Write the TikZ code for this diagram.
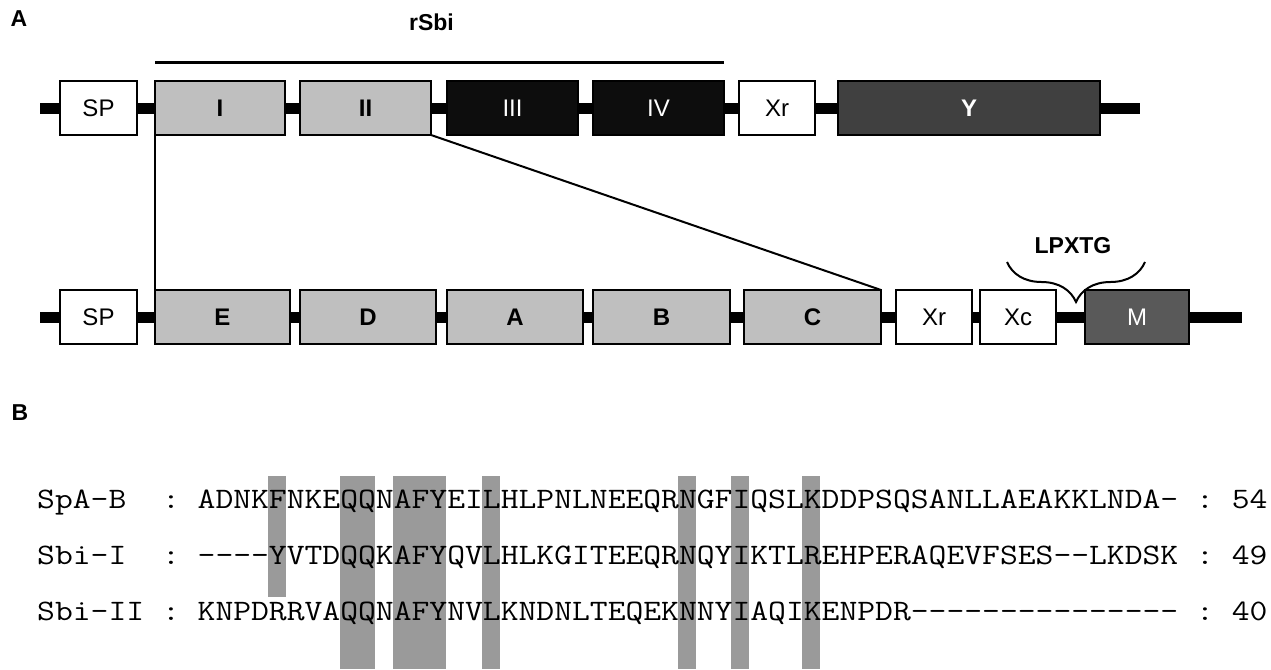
\documentclass[tikz,border=0pt]{standalone}
\usepackage{fontspec}
\setsansfont{Liberation Sans}
\usepackage{graphicx}
\usetikzlibrary{positioning,decorations.pathreplacing}

\definecolor{domgrey}{HTML}{BFBFBF}
\definecolor{domblack}{HTML}{0D0D0D}
\definecolor{ydark}{HTML}{404040}
\definecolor{mdark}{HTML}{595959}
\definecolor{hlgrey}{HTML}{9A9A9A}
\newcommand{\seqrow}[1]{\scalebox{1.1657}[1]{\fontsize{29.7}{30}\selectfont\ttfamily #1}}
\newcommand{\cw}{17.8}

\begin{document}
\begin{tikzpicture}[x=1pt,y=-1pt,
    box/.style={draw,line width=1.5pt,minimum height=54pt,inner sep=0pt,outer sep=0pt,
                font=\sffamily\fontsize{24}{24}\selectfont},
    white box/.style={box,fill=white},
    grey box/.style={box,fill=domgrey,font=\sffamily\bfseries\fontsize{24}{24}\selectfont},
    black box/.style={box,fill=domblack,text=white},
    dark box/.style={box,fill=#1,text=white},
    spine/.style={line width=11pt},
    panel/.style={font=\sffamily\bfseries\fontsize{23}{23}\selectfont},
    seq/.style={anchor=base west,inner sep=0pt}]

    \useasboundingbox (0,0) rectangle (1271,669);

    % panel A
    \node[panel] (pA) at (19,19) {A};

    \coordinate (topL) at (40,108);
    \coordinate (topR) at (1140,108);
    \draw[spine] (topL) -- (topR);

    \node[white box, minimum width=77pt] (SP1) at (98.5,108) {SP};
    \node[grey box, minimum width=130pt, right=18pt of SP1] (I) {I};
    \node[grey box, minimum width=131pt, right=15pt of I] (II) {II};
    \node[black box, minimum width=131pt, right=16pt of II] (III) {III};
    \node[black box, minimum width=131pt, right=15pt of III] (IV) {IV};
    \node[white box, minimum width=76pt, right=15pt of IV] (Xr1) {Xr};
    \node[dark box=ydark, minimum width=262pt, right=23pt of Xr1,
          font=\sffamily\bfseries\fontsize{24}{24}\selectfont] (Y) {Y};

    \draw[line width=3pt] ([yshift=18pt]I.north west) -- ([yshift=18pt]IV.north east)
        node[midway, yshift=41pt, xshift=-8pt, panel] (rsbi) {rSbi};

    \coordinate (botL) at (40,317);
    \coordinate (botR) at (1242,317);
    \draw[spine] (botL) -- (botR);

    \node[white box, minimum width=77pt] (SP2) at (98.5,317) {SP};
    \node[grey box, minimum width=135pt, right=18pt of SP2] (E) {E};
    \node[grey box, minimum width=136pt, right=10pt of E] (D) {D};
    \node[grey box, minimum width=136pt, right=11pt of D] (A) {A};
    \node[grey box, minimum width=137pt, right=10pt of A] (B) {B};
    \node[grey box, minimum width=137pt, right=14pt of B] (C) {C};
    \node[white box, minimum width=76pt, right=15pt of C] (Xr2) {Xr};
    \node[white box, minimum width=76pt, right=8pt of Xr2] (Xc) {Xc};
    \node[dark box=mdark, minimum width=104pt, right=29pt of Xc] (M) {M};

    % zoom lines
    \draw[line width=2pt] (I.south west) -- (E.north west);
    \draw[line width=2pt] (II.south east) -- (C.north east);

    % sorting signal
    \coordinate (brR) at (1145,262);
    \coordinate (brL) at (1007,262);
    \draw[line width=2pt, decorate, decoration={brace,amplitude=40pt}] (brR) -- (brL);
    \node[panel] (lpxtg) at (1073,246) {LPXTG};

    % panel B
    \node[panel] (pB) at (20,413) {B};

    \foreach \c/\n/\b in {13/1/597,17/2/669,20/3/669,25/1/669,36/1/669,39/1/669,43/1/669}
        \fill[hlgrey] ({37+\c*\cw},476) rectangle ({37+(\c+\n)*\cw},\b);

    \node[seq] (rowB) at (37,508) {\seqrow{SpA-B~~:~ADNKFNKEQQNAFYEILHLPNLNEEQRNGFIQSLKDDPSQSANLLAEAKKLNDA-~:~54}};
    \node[seq] (rowI) at (37,564) {\seqrow{Sbi-I~~:~----YVTDQQKAFYQVLHLKGITEEQRNQYIKTLREHPERAQEVFSES--LKDSK~:~49}};
    \node[seq] (rowII) at (37,620) {\seqrow{Sbi-II~:~KNPDRRVAQQNAFYNVLKNDNLTEQEKNNYIAQIKENPDR---------------~:~40}};
\end{tikzpicture}
\end{document}
